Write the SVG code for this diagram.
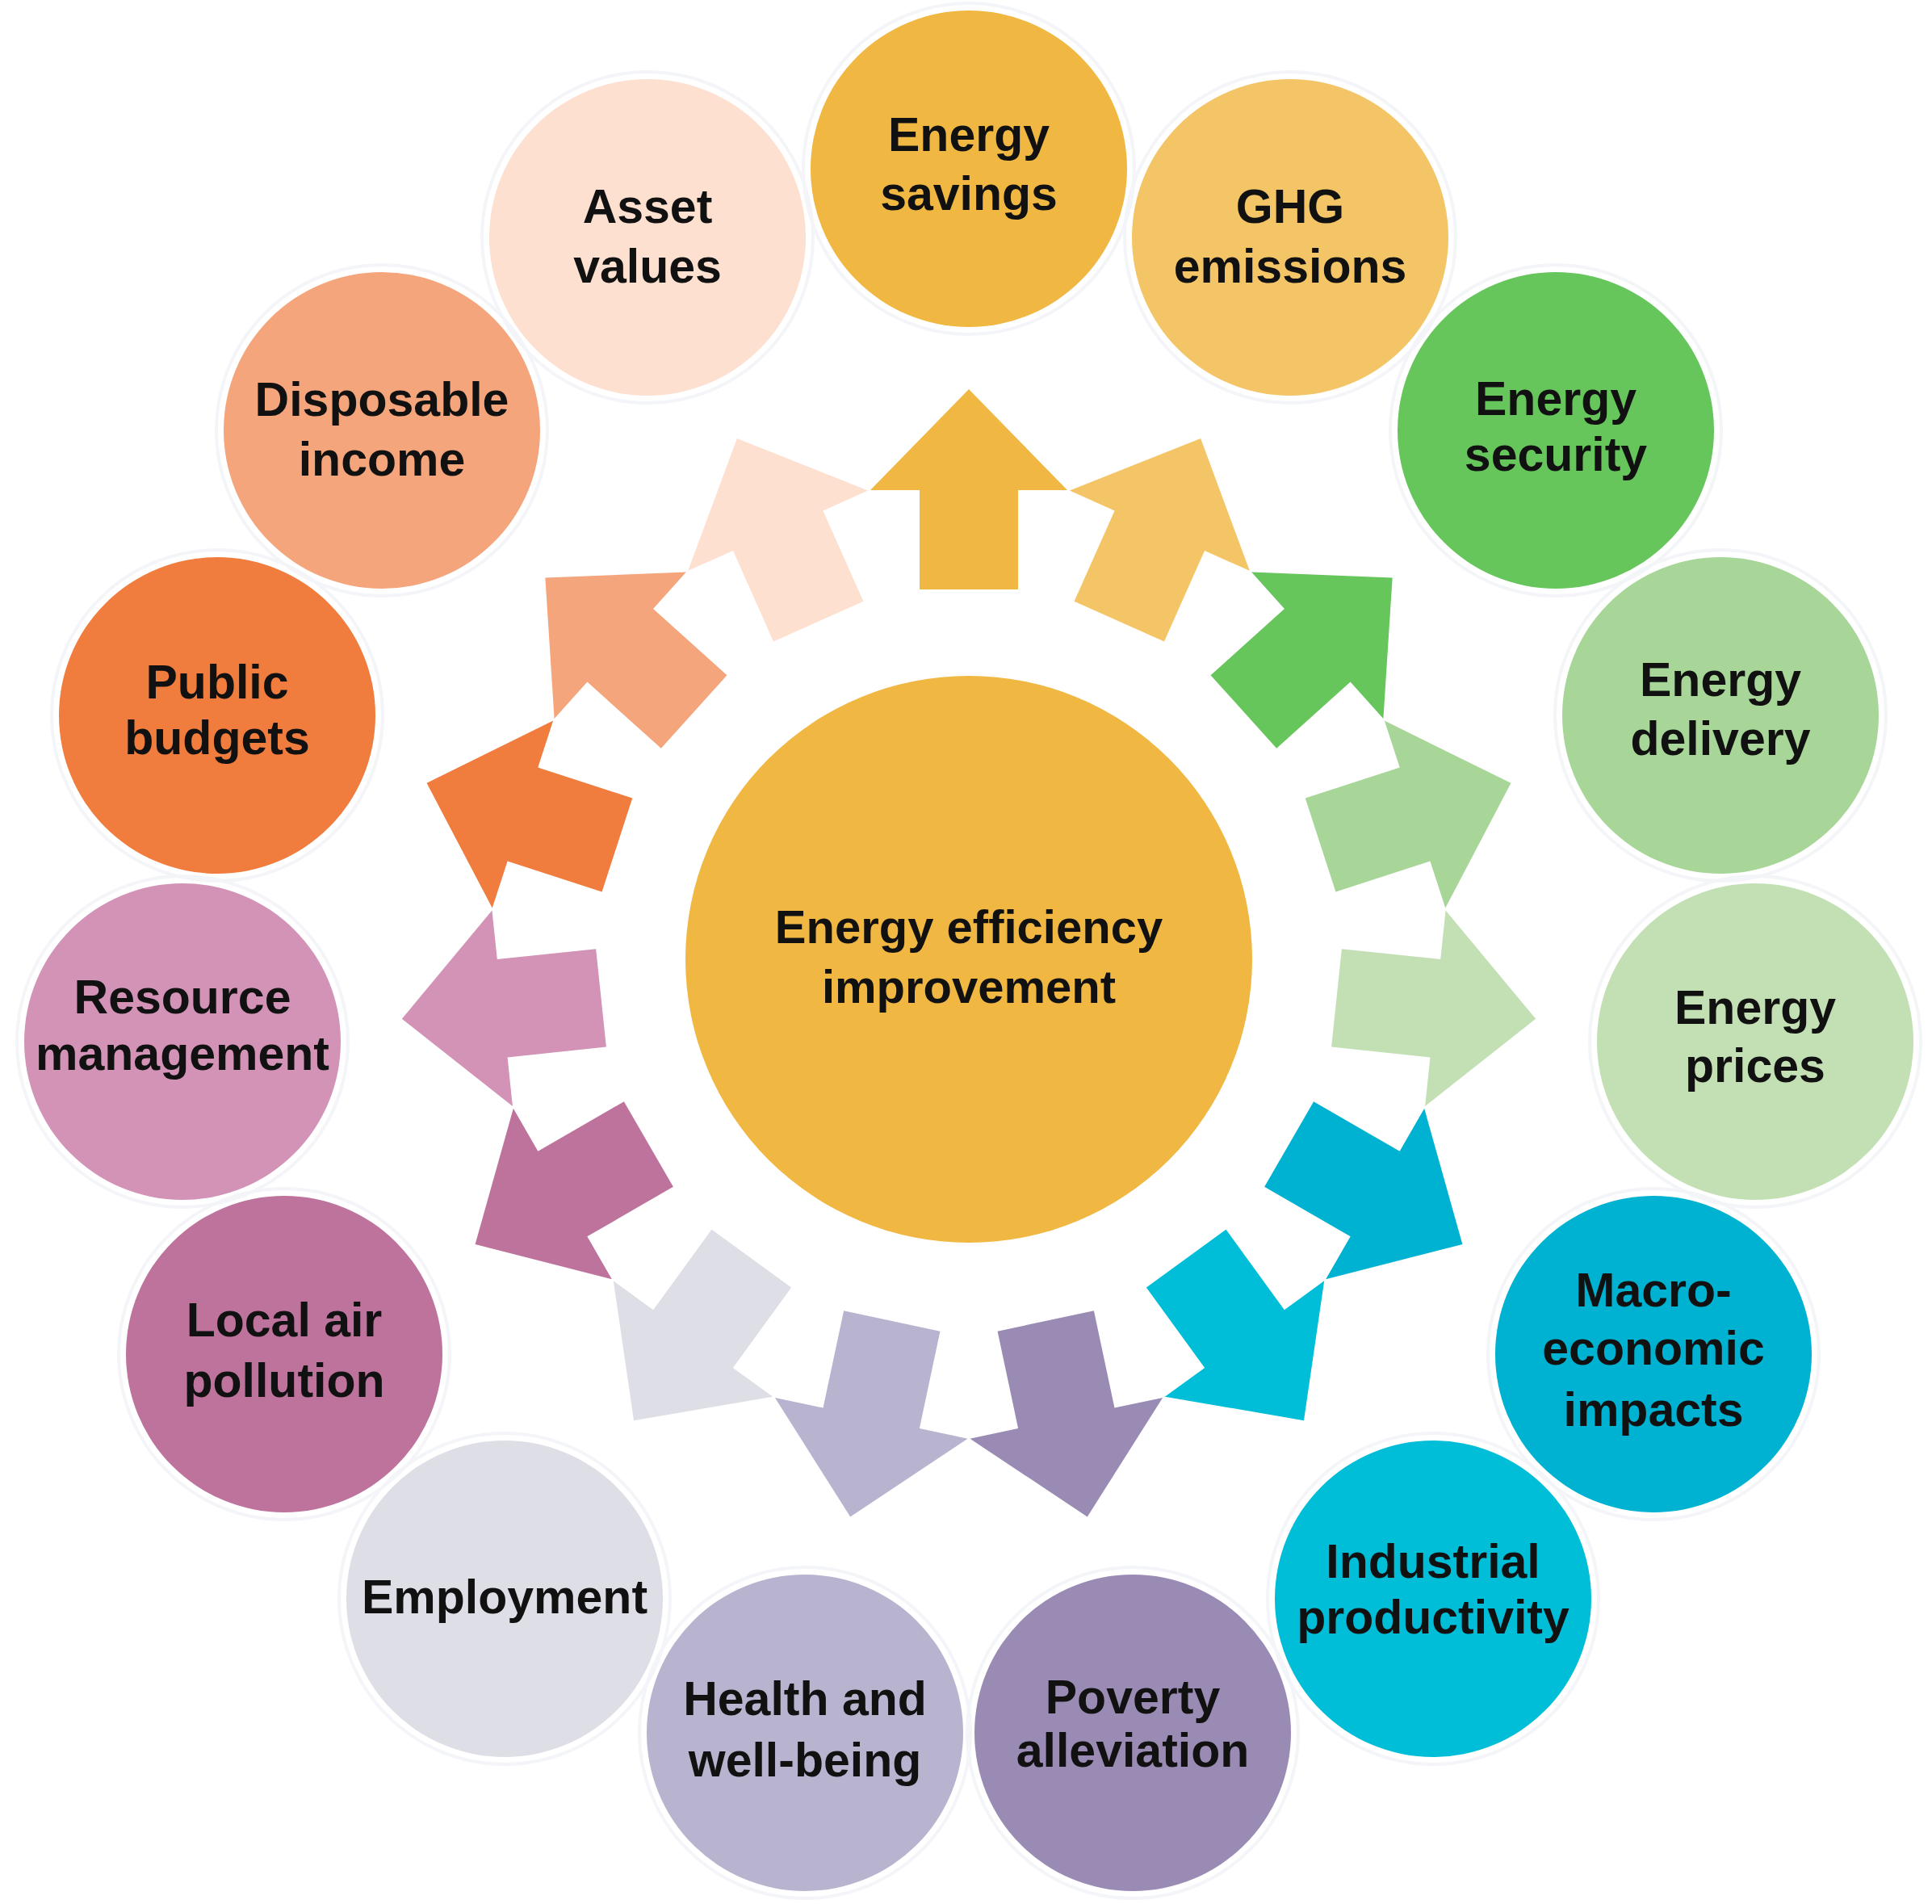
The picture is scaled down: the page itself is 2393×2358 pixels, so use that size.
<svg xmlns="http://www.w3.org/2000/svg" width="2393" height="2358" viewBox="0 0 2393 2358">
<style>
.t{font-family:"Liberation Sans",Arial,sans-serif;font-weight:bold;font-size:59px;fill:#111;text-anchor:middle}
.c{font-size:58px}
.ring{fill:none;stroke:#F3F5F8;stroke-width:4}
</style>
<defs>
<path id="arr" d="M-61,-458 L-61,-581 L-122,-581 L0,-706 L122,-581 L61,-581 L61,-458 Z"/>
</defs>
<rect width="2393" height="2358" fill="#fff"/>
<g id="connectors">
<use href="#arr" fill="#F0B843" transform="translate(1200,1188) rotate(0)"/>
<use href="#arr" fill="#F4C566" transform="translate(1200,1188) rotate(24)"/>
<use href="#arr" fill="#66C65C" transform="translate(1200,1188) rotate(48)"/>
<use href="#arr" fill="#A8D698" transform="translate(1200,1188) rotate(72)"/>
<use href="#arr" fill="#C3E0B5" transform="translate(1200,1188) rotate(96)"/>
<use href="#arr" fill="#00B2D2" transform="translate(1200,1188) rotate(120)"/>
<use href="#arr" fill="#00BED8" transform="translate(1200,1188) rotate(144)"/>
<use href="#arr" fill="#9A8BB4" transform="translate(1200,1188) rotate(168)"/>
<use href="#arr" fill="#B8B4D0" transform="translate(1200,1188) rotate(192)"/>
<use href="#arr" fill="#DEDEE6" transform="translate(1200,1188) rotate(216)"/>
<use href="#arr" fill="#BE739D" transform="translate(1200,1188) rotate(240)"/>
<use href="#arr" fill="#D293B6" transform="translate(1200,1188) rotate(264)"/>
<use href="#arr" fill="#F07C3D" transform="translate(1200,1188) rotate(288)"/>
<use href="#arr" fill="#F4A57C" transform="translate(1200,1188) rotate(312)"/>
<use href="#arr" fill="#FDE0D0" transform="translate(1200,1188) rotate(336)"/>
</g>
<g id="center">
<circle cx="1200" cy="1188" r="351" fill="#F0B843"/>
<text class="t c" x="1200" y="1168">Energy efficiency</text>
<text class="t c" x="1200" y="1242">improvement</text>
</g>
<g id="n0"><circle class="ring" cx="1200" cy="209" r="205"/><circle cx="1200" cy="209" r="196" fill="#F0B843"/>
<text class="t" x="1200" y="187">Energy</text><text class="t" x="1200" y="260">savings</text></g>
<g id="n1"><circle class="ring" cx="1598" cy="294" r="205"/><circle cx="1598" cy="294" r="196" fill="#F4C566"/>
<text class="t" x="1598" y="276">GHG</text><text class="t" x="1598" y="350">emissions</text></g>
<g id="n2"><circle class="ring" cx="1927" cy="533" r="205"/><circle cx="1927" cy="533" r="196" fill="#66C65C"/>
<text class="t" x="1927" y="514">Energy</text><text class="t" x="1927" y="583">security</text></g>
<g id="n3"><circle class="ring" cx="2131" cy="886" r="205"/><circle cx="2131" cy="886" r="196" fill="#A8D698"/>
<text class="t" x="2131" y="862">Energy</text><text class="t" x="2131" y="935">delivery</text></g>
<g id="n4"><circle class="ring" cx="2174" cy="1290" r="205"/><circle cx="2174" cy="1290" r="196" fill="#C3E0B5"/>
<text class="t" x="2174" y="1268">Energy</text><text class="t" x="2174" y="1340">prices</text></g>
<g id="n5"><circle class="ring" cx="2048" cy="1677" r="205"/><circle cx="2048" cy="1677" r="196" fill="#00B2D2"/>
<text class="t" x="2048" y="1618">Macro-</text><text class="t" x="2048" y="1690">economic</text><text class="t" x="2048" y="1766">impacts</text></g>
<g id="n6"><circle class="ring" cx="1775" cy="1980" r="205"/><circle cx="1775" cy="1980" r="196" fill="#00BED8"/>
<text class="t" x="1775" y="1954">Industrial</text><text class="t" x="1775" y="2023">productivity</text></g>
<g id="n7"><circle class="ring" cx="1403" cy="2146" r="205"/><circle cx="1403" cy="2146" r="196" fill="#9A8BB4"/>
<text class="t" x="1403" y="2122">Poverty</text><text class="t" x="1403" y="2188">alleviation</text></g>
<g id="n8"><circle class="ring" cx="997" cy="2146" r="205"/><circle cx="997" cy="2146" r="196" fill="#B8B4D0"/>
<text class="t" x="997" y="2124">Health and</text><text class="t" x="997" y="2200">well-being</text></g>
<g id="n9"><circle class="ring" cx="625" cy="1980" r="205"/><circle cx="625" cy="1980" r="196" fill="#DEDEE6"/>
<text class="t" x="625" y="1998">Employment</text></g>
<g id="n10"><circle class="ring" cx="352" cy="1677" r="205"/><circle cx="352" cy="1677" r="196" fill="#BE739D"/>
<text class="t" x="352" y="1655">Local air</text><text class="t" x="352" y="1730">pollution</text></g>
<g id="n11"><circle class="ring" cx="226" cy="1290" r="205"/><circle cx="226" cy="1290" r="196" fill="#D293B6"/>
<text class="t" x="226" y="1255">Resource</text><text class="t" x="226" y="1325">management</text></g>
<g id="n12"><circle class="ring" cx="269" cy="886" r="205"/><circle cx="269" cy="886" r="196" fill="#F07C3D"/>
<text class="t" x="269" y="865">Public</text><text class="t" x="269" y="934">budgets</text></g>
<g id="n13"><circle class="ring" cx="473" cy="533" r="205"/><circle cx="473" cy="533" r="196" fill="#F4A57C"/>
<text class="t" x="473" y="515">Disposable</text><text class="t" x="473" y="589">income</text></g>
<g id="n14"><circle class="ring" cx="802" cy="294" r="205"/><circle cx="802" cy="294" r="196" fill="#FDE0D0"/>
<text class="t" x="802" y="276">Asset</text><text class="t" x="802" y="350">values</text></g>
</svg>
